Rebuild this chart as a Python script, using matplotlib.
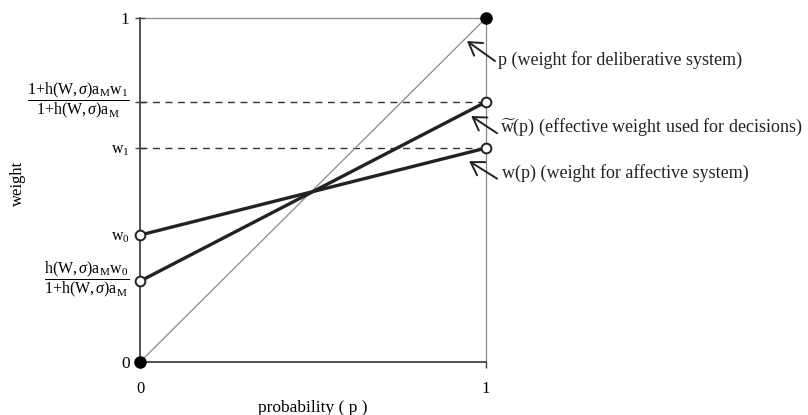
import matplotlib
matplotlib.use("Agg")
import matplotlib.pyplot as plt
import matplotlib.transforms as mtransforms

plt.rcParams['font.family'] = ['Liberation Serif', 'DejaVu Serif']
plt.rcParams['mathtext.fontset'] = 'custom'
plt.rcParams['mathtext.rm'] = 'Liberation Serif'
plt.rcParams['mathtext.it'] = 'Liberation Serif:italic'

# probability endpoints
p_vals = [0, 1]
# weight for deliberative system
p_weight = [0, 1]
# affective weight w(p)
w_vals = [0.369, 0.622]
# effective weight w~(p)
wt_vals = [0.235, 0.756]

ytick_vals = [0, wt_vals[0], w_vals[0], w_vals[1], wt_vals[1], 1]
ytick_labels = [
    '0',
    r'$\dfrac{\mathrm{h(W,}\sigma\mathrm{)a}_{\mathrm{M}}\mathrm{w}_{0}}{\mathrm{1{+}h(W,}\sigma\mathrm{)a}_{\mathrm{M}}}$',
    r'$\mathrm{w}_{0}$',
    r'$\mathrm{w}_{1}$',
    r'$\dfrac{\mathrm{1{+}h(W,}\sigma\mathrm{)a}_{\mathrm{M}}\mathrm{w}_{1}}{\mathrm{1{+}h(W,}\sigma\mathrm{)a}_{\mathrm{M}}}$',
    '1',
]
xtick_vals = [0, 1]
xtick_labels = ['0', '1']

# (label, arrow head, arrow tail, text anchor)
annotations = [
    ('p (weight for deliberative system)', (0.945, 0.933), (1.026, 0.875), (1.035, 0.878)),
    (r'$\widetilde{\mathrm{w}}$(p) (effective weight used for decisions)', (0.957, 0.715), (1.032, 0.665), (1.040, 0.683)),
    ('w(p) (weight for affective system)', (0.951, 0.584), (1.032, 0.533), (1.046, 0.549)),
]

fig = plt.figure(figsize=(8.08, 4.15), dpi=100)
ax = fig.add_axes([0.1733, 0.1277, 0.4282, 0.8289])
ax.set_xlim(0, 1)
ax.set_ylim(0, 1)

dark = '#222222'

# dashed guides at the right-hand values
for v in (wt_vals[1], w_vals[1]):
    ax.plot([0, 1], [v, v], ls=(0, (5, 4)), color='#333333', lw=1.0, zorder=2)

# frame: top and right thin gray
ax.plot([0, 1], [1, 1], color='#888888', lw=0.9, zorder=1, clip_on=False)
ax.plot([1, 1], [0, 1], color='#888888', lw=0.9, zorder=1, clip_on=False)

ax.plot(p_vals, p_weight, color='#8a8a8a', lw=0.9, zorder=3)
ax.plot(p_vals, w_vals, color=dark, lw=2.4, zorder=4, solid_capstyle='butt')
ax.plot(p_vals, wt_vals, color=dark, lw=2.4, zorder=4, solid_capstyle='butt')

ax.plot(p_vals, w_vals, ls='none', marker='o', ms=7, mfc='white', mec=dark, mew=1.4, zorder=5, clip_on=False)
ax.plot(p_vals, wt_vals, ls='none', marker='o', ms=7, mfc='white', mec=dark, mew=1.4, zorder=5, clip_on=False)
ax.plot(p_vals, p_weight, ls='none', marker='o', ms=8, mfc='black', mec='black', zorder=6, clip_on=False)

for txt, head, tail, pos in annotations:
    ax.annotate('', xy=head, xytext=tail, textcoords='data',
                arrowprops=dict(arrowstyle='->,head_length=0.45,head_width=0.28',
                                color=dark, lw=1.4, mutation_scale=20,
                                shrinkA=0, shrinkB=0),
                annotation_clip=False)
    ax.text(pos[0], pos[1], txt, fontsize=13, va='center', ha='left', color=dark,
            clip_on=False)

for s in ('top', 'right'):
    ax.spines[s].set_visible(False)
for s in ('left', 'bottom'):
    ax.spines[s].set_color('#444444')
    ax.spines[s].set_linewidth(1.3)

ax.set_yticks(ytick_vals)
ax.set_yticklabels(ytick_labels, fontsize=11.5)
ax.set_xticks(xtick_vals)
ax.set_xticklabels(xtick_labels, fontsize=12)
ax.tick_params(axis='y', direction='inout', length=7, width=1, color='#444444', pad=4)
ax.tick_params(axis='x', direction='out', length=4, width=1, color='#444444', pad=10)

# lift the stacked fraction labels so their bars sit on the tick
lift = mtransforms.ScaledTranslation(0, 6 / 72, fig.dpi_scale_trans)
for i in (1, 4):
    lbl = ax.get_yticklabels()[i]
    lbl.set_transform(lbl.get_transform() + lift)
for i in (0, 5):
    ax.get_yticklabels()[i].set_fontsize(12.5)

ax.set_xlabel('probability ( p )', fontsize=12.5, labelpad=2)
ax.set_ylabel('weight', fontsize=12, labelpad=0)
ax.yaxis.set_label_coords(-0.33, 0.52)

fig.savefig('out.png', dpi=100)
